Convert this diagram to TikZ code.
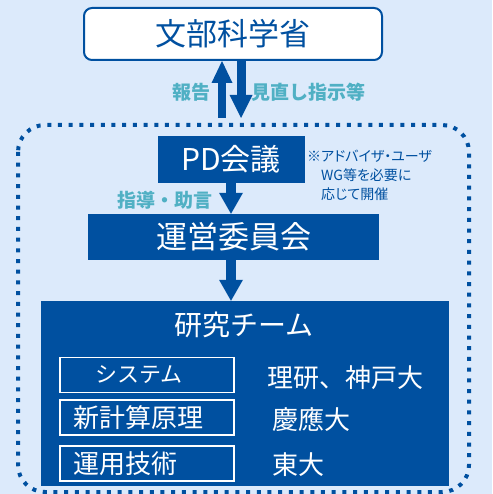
\documentclass[tikz,border=0pt]{standalone}
\usepackage{fontspec}
\setmainfont{Noto Sans CJK JP}
\newfontfamily\notefont{Noto Sans CJK JP}[RawFeature=+palt]
\usetikzlibrary{arrows.meta}
\definecolor{mextblue}{RGB}{0,80,160}
\definecolor{labelteal}{RGB}{80,176,196}
\definecolor{paleblue}{RGB}{220,234,251}

\begin{document}
\begin{tikzpicture}[x=1pt,y=-1pt,
  bluebox/.style={fill=mextblue, text=white, inner sep=0pt},
  subbox/.style={draw=white, line width=1.4pt, minimum width=174pt, minimum height=35pt,
    text width=148pt, inner xsep=13pt, inner ysep=0pt, align=left, text=white,
    font=\fontsize{26}{26}\selectfont},
  orgname/.style={anchor=west, text=white, inner sep=0pt, font=\fontsize{26}{26}\selectfont},
  flowlabel/.style={text=labelteal, inner sep=0pt, font=\fontsize{19}{19}\selectfont\bfseries},
  flow/.style={mextblue, line width=10pt, -{Triangle[width=24pt,length=21pt,line width=0pt]}}]
  \fill[paleblue] (0,0) rectangle (492,494);
  \useasboundingbox (0,0) rectangle (492,494);

  \draw[mextblue, line width=4pt, dash pattern=on 4pt off 6.7pt, rounded corners=27pt]
    (18,125) rectangle (469,492);

  \node[draw=mextblue, line width=2pt, fill=white, rounded corners=8pt, text=mextblue,
    minimum width=298pt, minimum height=52pt, font=\fontsize{31}{31}\selectfont]
    (mext) at (233,34) {文部科学省};

  \coordinate (report) at (222,118);
  \coordinate (review) at (241,118);
  \draw[mextblue, line width=8pt, -{Triangle[width=21pt,length=22pt,line width=0pt]}]
    (report) -- (report |- mext.south);
  \draw[mextblue, line width=9pt, -{Triangle[width=23pt,length=23pt,line width=0pt]}]
    (review |- mext.south) -- (review);
  \node[flowlabel, anchor=east] (reportlabel) at (211,92) {報告};
  \node[flowlabel, anchor=west] (reviewlabel) at (251,92) {見直し指示等};

  \node[bluebox, minimum width=147pt, minimum height=47pt, font=\fontsize{30}{30}\selectfont]
    (pd) at (231,159.5) {PD会議};
  \node[anchor=north west, align=left, text=mextblue, inner sep=0pt,
    font=\notefont\fontsize{14}{19}\selectfont] (note) at (307,150)
    {※アドバイザ・ユーザ\\\phantom{※}WG等を必要に\\\phantom{※}応じて開催};

  \node[bluebox, minimum width=291pt, minimum height=46pt, font=\fontsize{31}{31}\selectfont]
    (unei) at (233.5,237) {運営委員会};
  \draw[flow] (pd.south) -- (pd.south |- unei.north);
  \node[flowlabel, anchor=east] (advice) at (213,200) {指導・助言};

  \node[bluebox, minimum width=408pt, minimum height=185pt] (team) at (245,393.5) {};
  \draw[flow, line width=10pt] (pd.south |- unei.south) -- (pd.south |- team.north);
  \node[text=white, inner sep=0pt, font=\fontsize{28}{28}\selectfont] (teamtitle) at (244,325) {研究チーム};

  \node[subbox] (sys) at (147,375) {\hspace{22pt}{\fontsize{22}{22}\selectfont システム}};
  \node[subbox] (calc) at (147,417.5) {新計算原理};
  \node[subbox] (ops) at (147,463.5) {運用技術};

  \node[orgname] (sysorg) at (267,378) {理研、神戸大};
  \node[orgname] (calcorg) at (272,420) {慶應大};
  \node[orgname] (opsorg) at (272,465) {東大};
\end{tikzpicture}
\end{document}
